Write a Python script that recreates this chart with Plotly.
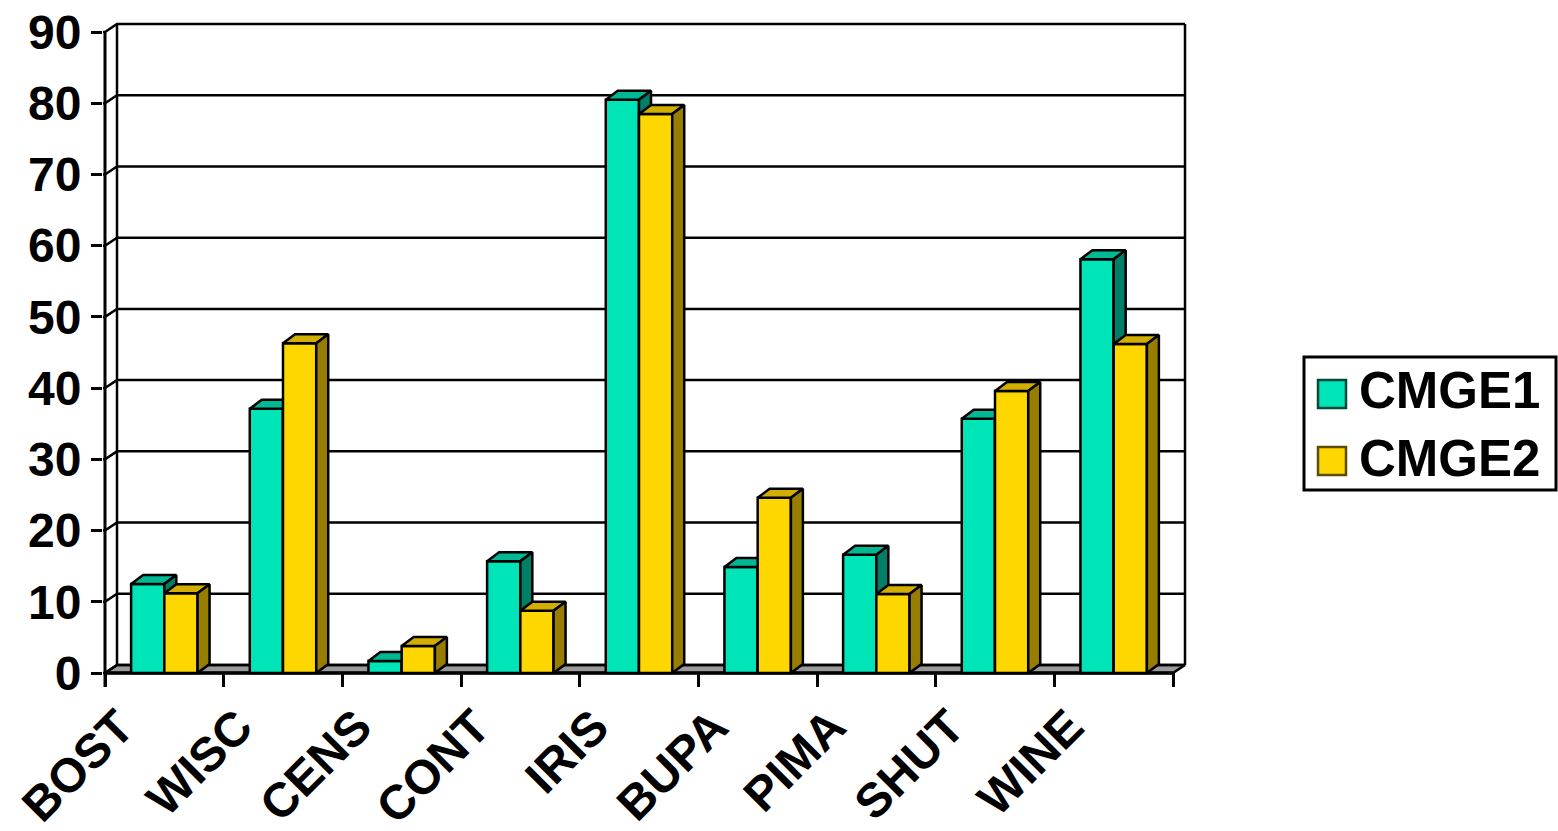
import plotly.graph_objects as go

# ---- data ----
categories = ["BOST", "WISC", "CENS", "CONT", "IRIS", "BUPA", "PIMA", "SHUT", "WINE"]
cmge1 = [12.5, 37.1, 1.7, 15.7, 80.5, 14.9, 16.6, 35.7, 58.1]
cmge2 = [11.2, 46.3, 3.8, 8.75, 78.5, 24.6, 11.1, 39.6, 46.2]
y_ticks = [0, 10, 20, 30, 40, 50, 60, 70, 80, 90]
series_names = ["CMGE1", "CMGE2"]

# ---- geometry / style ----
W, H = 1558, 831
U = 118.67          # px per category unit
V = 7.122           # px per value unit
PL, PR, PT, PB = 103, 1189, 20, 687   # plot area in px
X0 = -0.5 - 2 / U
X1 = 8.5 + 16 / U
Y0 = -14 / V
Y1 = (673 - PT) / V
DXW, DYW = 12 / U, 8 / V      # wall depth offset
DXB, DYB = 12 / U, 9 / V      # bar depth offset
BW = 0.28                     # bar width (category units)
FONT = "Liberation Sans, Arial, sans-serif"
LW = 2.5

front_cols = ["#00E5B8", "#FFD700"]
top_cols = ["#00B894", "#D2AE00"]
side_cols = ["#007F66", "#977D00"]
legend_border = ["#004a3a", "#5c4c00"]

n = len(categories)
top_val = y_ticks[-1]

fig = go.Figure()


def poly_trace(xs, ys, fill, color="black", width=LW):
    return go.Scatter(x=xs, y=ys, mode="lines", fill="toself", fillcolor=fill,
                      line=dict(color=color, width=width), hoverinfo="skip",
                      showlegend=False)


def line_trace(xs, ys, width=LW):
    return go.Scatter(x=xs, y=ys, mode="lines", line=dict(color="black", width=width),
                      hoverinfo="skip", showlegend=False)


def px(xp):
    return (xp - PL) / (PR - PL)


def py(yp):
    return (PB - yp) / (PB - PT)


# floor
left, right = -0.5, n - 0.5
fig.add_trace(poly_trace([left, right, right + DXW, left + DXW, left],
                         [0, 0, DYW, DYW, 0], "#9a9a9a"))

# gridlines on side and back wall
gx, gy = [], []
for t in y_ticks:
    gx += [X0, left, left + DXW, right + DXW, None]
    gy += [t, t, t + DYW, t + DYW, None]
fig.add_trace(line_trace(gx, gy))

# wall edges and front axis
fig.add_trace(line_trace([left + DXW, left + DXW], [DYW, top_val + DYW]))
fig.add_trace(line_trace([right + DXW, right + DXW], [DYW, top_val + DYW]))
fig.add_trace(line_trace([left, left], [Y0, top_val], width=3))
fig.add_trace(line_trace([left, right], [0, 0], width=3.5))

# 3-D columns: front face, top face, side face for each series
for s, vals in enumerate([cmge1, cmge2]):
    fx, fy, tx, ty, sx, sy = [], [], [], [], [], []
    for i, v in enumerate(vals):
        a = i - BW + s * BW
        b = a + BW
        fx += [a, b, b, a, a, None]
        fy += [0, 0, v, v, 0, None]
        tx += [a, b, b + DXB, a + DXB, a, None]
        ty += [v, v, v + DYB, v + DYB, v, None]
        sx += [b, b + DXB, b + DXB, b, b, None]
        sy += [0, DYB, v + DYB, v, 0, None]
    fig.add_trace(poly_trace(fx, fy, front_cols[s]))
    fig.add_trace(poly_trace(tx, ty, top_cols[s]))
    fig.add_trace(poly_trace(sx, sy, side_cols[s]))

# rotated category labels
for i, c in enumerate(categories):
    fig.add_annotation(x=i - 0.15, y=py(697), xref="x", yref="paper",
                       text=c, showarrow=False, textangle=-45,
                       xanchor="right", yanchor="top",
                       font=dict(family=FONT, size=48, color="black", weight="bold"))

# legend (drawn in paper coordinates)
shapes = [dict(type="rect", xref="paper", yref="paper",
               x0=px(1304), x1=px(1556), y0=py(357), y1=py(490),
               line=dict(color="black", width=3), fillcolor="white")]
rows = [394, 461]
for s, name in enumerate(series_names):
    cy = rows[s]
    shapes.append(dict(type="rect", xref="paper", yref="paper",
                       x0=px(1318), x1=px(1346), y0=py(cy - 14), y1=py(cy + 14),
                       line=dict(color=legend_border[s], width=2.5),
                       fillcolor=front_cols[s]))
    fig.add_annotation(x=px(1357), y=py(cy - 3), xref="paper", yref="paper",
                       text=name, showarrow=False, xanchor="left", yanchor="middle",
                       font=dict(family=FONT, size=51, color="black", weight="bold"))

fig.update_layout(
    width=W, height=H,
    margin=dict(l=PL, r=W - PR, t=PT, b=H - PB, pad=0, autoexpand=False),
    paper_bgcolor="white", plot_bgcolor="white",
    showlegend=False, shapes=shapes,
    xaxis=dict(range=[X0, X1], tickmode="array",
               tickvals=[i - 0.5 for i in range(n + 1)],
               ticks="inside", ticklen=14, tickwidth=LW, tickcolor="black",
               showticklabels=False, showgrid=False, zeroline=False, showline=False,
               automargin=False, fixedrange=True),
    yaxis=dict(range=[Y0, Y1], tickmode="array", tickvals=y_ticks,
               ticktext=[str(t) for t in y_ticks],
               ticks="outside", ticklen=11, tickwidth=LW, tickcolor="black",
               ticklabelstandoff=0,
               tickfont=dict(family=FONT, size=48, color="black", weight="bold"),
               showgrid=False, zeroline=False, showline=False,
               automargin=False, fixedrange=True),
)

fig.write_html("out.html")
